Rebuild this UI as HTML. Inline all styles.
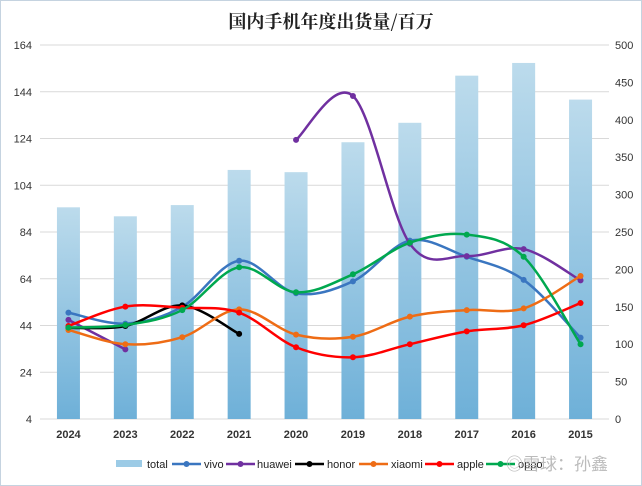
<!DOCTYPE html>
<html><head><meta charset="utf-8">
<style>
html,body{margin:0;padding:0;background:#fff;}
svg{display:block;font-family:"Liberation Sans","Noto Sans CJK SC",sans-serif;}
</style></head>
<body>
<svg id="chart" width="642" height="486" viewBox="0 0 642 486">
<defs>
<linearGradient id="barg" x1="0" y1="0" x2="0" y2="1">
<stop offset="0" stop-color="#bcdbec"/><stop offset="1" stop-color="#6eb0d8"/>
</linearGradient>
</defs>
<rect x="0.5" y="0.5" width="641" height="485" fill="#fff" stroke="#c5d3e0"/>
<text x="331" y="28" text-anchor="middle" font-size="18" font-weight="bold" fill="#222" style="font-family:'Noto Serif CJK SC','Liberation Serif',serif">国内手机年度出货量/百万</text>
<g id="grid"></g><g id="bars"></g><g id="lines"></g><g id="axes"></g><g id="legend"></g>
<text x="506" y="470" font-size="17" fill="#bbb" style="font-family:'Noto Sans CJK SC',sans-serif">◎雪球：孙鑫</text>
</svg>
<script>
const categories=["2024","2023","2022","2021","2020","2019","2018","2017","2016","2015"];
const leftTicks=[4,24,44,64,84,104,124,144,164];
const rightTicks=[0,50,100,150,200,250,300,350,400,450,500];
const total=[283,271,286,333,330,370,396,459,476,427];
const vivo=[49.5,44.8,52,71.7,57.8,62.9,80.3,73.4,63.5,38.8];
const huawei=[46.4,33.8,null,null,123.4,142.2,79,73.7,76.7,63.3];
const honor=[43,43.8,52.6,40.4,null,null,null,null,null,null];
const xiaomi=[42.1,36,39,50.9,40.1,39.2,47.8,50.6,51.3,65.2];
const apple=[43.8,52.1,51.6,49.5,34.7,30.4,36,41.5,44.1,53.6];
const oppo=[43.1,44.2,50.6,68.9,58.2,65.9,79.4,82.9,73.4,36];

const NS="http://www.w3.org/2000/svg";
const X0=40,X1=609,Y0=419,Y1=45;
const step=(X1-X0)/categories.length;
function xPos(i){return X0+step*(i+0.5);}
function yL(v){return Y0-(v-4)/(164-4)*(Y0-Y1);}
function yR(v){return Y0-v/500*(Y0-Y1);}
function mk(tag,attrs,parent){const e=document.createElementNS(NS,tag);for(const k in attrs)e.setAttribute(k,attrs[k]);parent.appendChild(e);return e;}
const grid=document.getElementById('grid'),bars=document.getElementById('bars'),lines=document.getElementById('lines'),axes=document.getElementById('axes'),legend=document.getElementById('legend');
leftTicks.forEach((t,i)=>{
  const l=mk('line',{x1:X0,x2:X1,y1:yL(t),y2:yL(t),stroke:'#d9d9d9','stroke-width':1},grid);
  
  
  const tx=mk('text',{x:32,y:yL(t)+4,'text-anchor':'end','font-size':11,fill:'#333'},axes);
  tx.textContent=t;
  
  
});
rightTicks.forEach(t=>{
  const tx=mk('text',{x:615,y:yR(t)+4,'font-size':11,fill:'#333'},axes);
  tx.textContent=t;
  
  
});
categories.forEach((c,i)=>{
  const tx=mk('text',{x:xPos(i),y:438,'text-anchor':'middle','font-size':11,'font-weight':'bold',fill:'#333'},axes);
  tx.textContent=c;
  
  
  const b=mk('rect',{x:xPos(i)-11.5,y:yR(total[i]),width:23,height:Y0-yR(total[i]),fill:'url(#barg)'},bars);
  
  
});
function smooth(pts){
  let d='M'+pts[0][0]+','+pts[0][1];
  for(let i=0;i<pts.length-1;i++){
    const p0=pts[i-1]||pts[i],p1=pts[i],p2=pts[i+1],p3=pts[i+2]||p2;
    const c1=[p1[0]+(p2[0]-p0[0])/6,p1[1]+(p2[1]-p0[1])/6];
    const c2=[p2[0]-(p3[0]-p1[0])/6,p2[1]-(p3[1]-p1[1])/6];
    d+=' C'+c1[0]+','+c1[1]+' '+c2[0]+','+c2[1]+' '+p2[0]+','+p2[1];
  }
  return d;
}
const series=[["vivo",vivo,"#3a76c0"],["huawei",huawei,"#7030a0"],["honor",honor,"#000"],["xiaomi",xiaomi,"#ee6c15"],["apple",apple,"#ff0000"],["oppo",oppo,"#00a84f"]];
series.forEach(([name,vals,col])=>{
  let segs=[],cur=[];
  vals.forEach((v,i)=>{if(v==null){if(cur.length)segs.push(cur);cur=[];}else cur.push([xPos(i),yL(v)]);});
  if(cur.length)segs.push(cur);
  segs.forEach(s=>{
    const p=mk('path',{d:smooth(s),fill:'none',stroke:col,'stroke-width':2.5},lines);
    
    
    s.forEach(pt=>{
      const c=mk('circle',{cx:pt[0],cy:pt[1],r:3,fill:col},lines);
      
      
    });
  });
});
// legend
const ly=464;
const sw=mk('rect',{x:116,y:ly-4,width:26,height:7,fill:'#9ccbe6'},legend);


const lt=mk('text',{x:147,y:ly+4,'font-size':11,fill:'#222'},legend);
lt.textContent='total';


const legPos=[[172,204],[226,257],[295,327],[359,391],[425,457],[486,518]];
series.forEach(([name,vals,col],k)=>{
  const [lx,tx]=legPos[k];
  const l=mk('line',{x1:lx,x2:lx+29,y1:ly,y2:ly,stroke:col,'stroke-width':2.5},legend);
  
  
  const c=mk('circle',{cx:lx+14.5,cy:ly,r:3,fill:col},legend);
  
  
  const t=mk('text',{x:tx,y:ly+4,'font-size':11,fill:'#222'},legend);
  t.textContent=name;
  
  
});
</script>
</body></html>
